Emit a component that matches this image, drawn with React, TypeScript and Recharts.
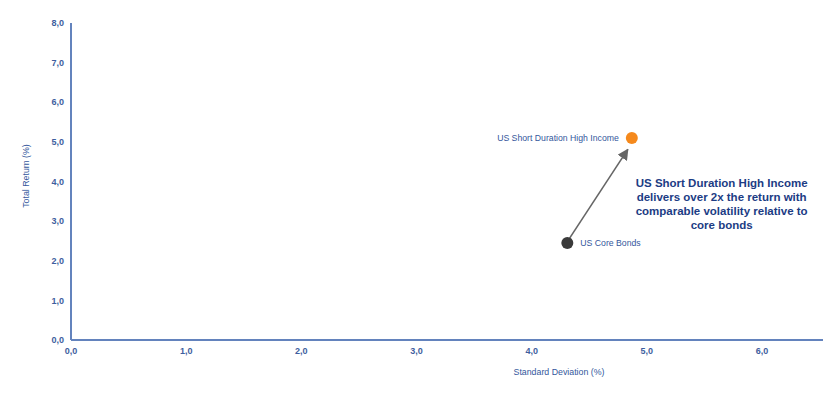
import React from 'react';
import {
  ScatterChart, Scatter, XAxis, YAxis, ReferenceLine, ReferenceDot,
} from 'recharts';

// risk / return points
const coreBonds = [{ x: 4.31, y: 2.45, name: 'US Core Bonds', side: 'right' }];
const shortDuration = [{ x: 4.87, y: 5.1, name: 'US Short Duration High Income', side: 'left' }];

const xTicks = [0, 1, 2, 3, 4, 5, 6];
const yTicks = [0, 1, 2, 3, 4, 5, 6, 7, 8];

// arrow from core bonds towards short duration
const arrowFrom = { x: 4.33, y: 2.57 };
const arrowTo = { x: 4.835, y: 4.81 };

const noteAt = { x: 5.65, y: 4.0 };
const noteLines = [
  'US Short Duration High Income',
  'delivers over 2x the return with',
  'comparable volatility relative to',
  'core bonds',
];

const FONT = '"Liberation Sans", Arial, sans-serif';
const AXIS = '#6383bd';
const TICK = '#3e5e9e';
const LABEL = '#34579c';
const NAVY = '#1c3c84';

const fmt = (v: number) => v.toFixed(1).replace('.', ',');

const makeDot = (fill: string) => (props: any) => {
  const { cx, cy, payload } = props;
  const left = payload.side === 'left';
  return (
    <g>
      <circle cx={cx} cy={cy} r={6} fill={fill} />
      <text
        x={left ? cx - 13 : cx + 13}
        y={cy}
        dy="0.35em"
        textAnchor={left ? 'end' : 'start'}
        fontSize={8.7}
        fontFamily={FONT}
        fill={LABEL}
      >
        {payload.name}
      </text>
    </g>
  );
};

const Arrow = (props: any) => {
  const { x1, y1, x2, y2 } = props;
  return (
    <g>
      <defs>
        <marker id="arrowHead" viewBox="0 0 10 10" refX="9" refY="5" markerWidth="7" markerHeight="7" orient="auto">
          <path d="M0,0 L10,5 L0,10 z" fill="#666" />
        </marker>
      </defs>
      <line x1={x1} y1={y1} x2={x2} y2={y2} stroke="#666" strokeWidth={1.6} markerEnd="url(#arrowHead)" />
    </g>
  );
};

const Note = (props: any) => {
  const { cx, cy } = props;
  return (
    <text x={cx} y={cy + 5.5} textAnchor="middle" fontSize={11.5} fontWeight="bold" fontFamily={FONT} fill={NAVY}>
      {noteLines.map((l, i) => (
        <tspan key={i} x={cx} dy={i === 0 ? 0 : 14}>{l}</tspan>
      ))}
    </text>
  );
};

export default function App() {
  return (
    <div style={{ position: 'absolute', left: 0, top: 0, background: '#fff' }}>
      <ScatterChart width={823} height={394} margin={{ top: 23, right: 0, bottom: 24, left: 0 }}>
        <XAxis
          type="number"
          dataKey="x"
          domain={[0, 6.53]}
          ticks={xTicks}
          tickFormatter={fmt}
          axisLine={{ stroke: AXIS, strokeWidth: 2 }}
          tickLine={false}
          tickSize={0}
          tickMargin={8}
          height={30}
          tick={{ fontSize: 9, fill: TICK, fontFamily: FONT, fontWeight: 'bold' }}
          label={{
            content: () => (
              <text x={559} y={372} dy="0.35em" textAnchor="middle" fontSize={8.8} fontFamily={FONT} fill={LABEL}>
                Standard Deviation (%)
              </text>
            ),
          }}
        />
        <YAxis
          type="number"
          dataKey="y"
          domain={[0, 8]}
          ticks={yTicks}
          tickFormatter={fmt}
          axisLine={{ stroke: AXIS, strokeWidth: 2 }}
          tickLine={false}
          tickSize={0}
          tickMargin={7}
          width={71}
          tick={{ fontSize: 9, fill: TICK, fontFamily: FONT, fontWeight: 'bold' }}
          label={{
            content: () => (
              <text x={26} y={176} dy="0.35em" textAnchor="middle" fontSize={8.8} fontFamily={FONT} fill={LABEL} transform="rotate(-90 26 176)">
                Total Return (%)
              </text>
            ),
          }}
        />
        <ReferenceLine segment={[arrowFrom, arrowTo]} shape={<Arrow />} />
        <Scatter data={coreBonds} shape={makeDot('#3a3a3a')} isAnimationActive={false} />
        <Scatter data={shortDuration} shape={makeDot('#f5891c')} isAnimationActive={false} />
        <ReferenceDot x={noteAt.x} y={noteAt.y} r={0} shape={<Note />} />
      </ScatterChart>
    </div>
  );
}
